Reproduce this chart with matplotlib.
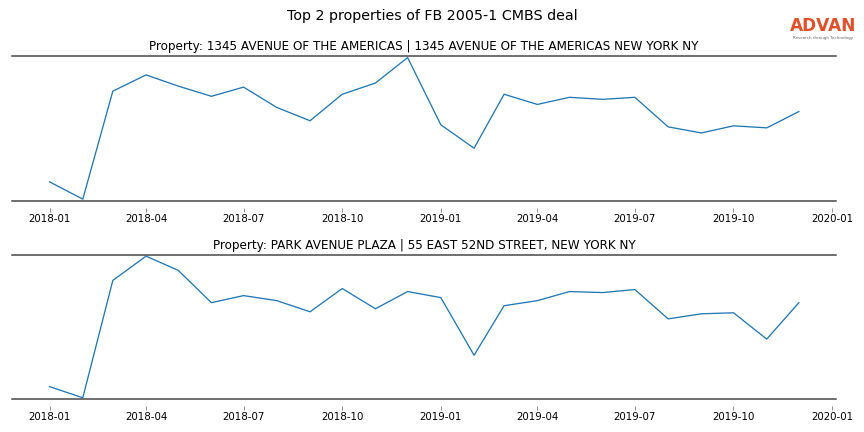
import numpy as np
import pandas as pd
import matplotlib
matplotlib.use("Agg")
import matplotlib.pyplot as plt

# Monthly visits (index units), 2018-01 .. 2019-12
months = pd.date_range("2018-01-01", "2019-12-01", freq="MS")

titles = [
    "Property: 1345 AVENUE OF THE AMERICAS | 1345 AVENUE OF THE AMERICAS NEW YORK NY",
    "Property: PARK AVENUE PLAZA | 55 EAST 52ND STREET, NEW YORK NY",
]

visits_1345 = [19, 2, 108, 124, 113, 103, 112, 92, 79, 105, 116, 141,
               75, 52, 105, 95, 102, 100, 102, 73, 67, 74, 72, 88]
visits_park = [13, 2, 118, 142, 128, 96, 103, 98, 87, 110, 90, 107,
               101, 44, 93, 98, 107, 106, 109, 80, 85, 86, 60, 96]

series = [visits_1345, visits_park]

fig, axes = plt.subplots(2, 1, figsize=(12, 6), dpi=72)
fig.subplots_adjust(left=0.014, right=0.968, top=0.870, bottom=0.076, hspace=0.375)

for ax, title, vals in zip(axes, titles, series):
    ax.plot(months, vals, color="tab:blue", linewidth=1.3)
    ax.set_title(title, fontsize=12, pad=6)
    ax.margins(y=0.01)
    ax.set_yticks([])
    for side in ["left", "right"]:
        ax.spines[side].set_visible(False)
    ax.spines["top"].set_color("#444444")
    ax.spines["top"].set_linewidth(1.5)
    # ticks sit a little below the frame line
    ax.spines["bottom"].set_position(("outward", 7))
    ax.spines["bottom"].set_visible(False)
    ax.plot([0, 1], [0, 0], transform=ax.transAxes, color="#444444",
            linewidth=1.5, clip_on=False)
    ax.tick_params(axis="x", labelsize=10.2, color="#777777", length=4, width=0.8, pad=2)

fig.suptitle("Top 2 properties of FB 2005-1 CMBS deal", fontsize=14.3, y=0.979)

# logo
fig.text(0.953, 0.940, "ADVAN", color="#e0502a", fontsize=17, fontweight="bold",
         ha="center", va="center")
fig.text(0.953, 0.912, "Research through Technology", color="#666666", fontsize=4,
         ha="center", va="center")

fig.savefig("out.png", dpi=72)
